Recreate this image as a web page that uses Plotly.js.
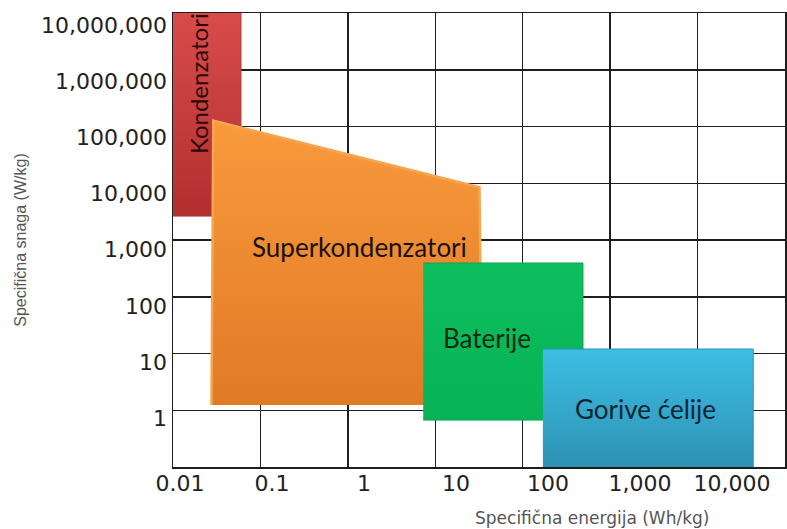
<!DOCTYPE html>
<html><head><meta charset="utf-8">
<script src="https://cdn.plot.ly/plotly-3.0.1.min.js"></script>
<style>html,body{margin:0;padding:0;background:#fff}</style>
</head><body><div id="chart" style="width:787px;height:529px"></div>
<script>
// Tick values and labels
const xTickVals = [0.01, 0.1, 1, 10, 100, 1000, 10000];
const xTickText = ['0.01', '0.1', '1', '10', '100', '1,000', '10,000'];
const yTickVals = [1, 10, 100, 1000, 10000, 100000, 1000000, 10000000];
const yTickText = ['1', '10', '100', '1,000', '10,000', '100,000', '1,000,000', '10,000,000'];

// Region names
const regionNames = ['Kondenzatori', 'Superkondenzatori', 'Baterije', 'Gorive ćelije'];

// Region outlines (specific energy Wh/kg, specific power W/kg)
const kondenzatoriX = [0.0084, 0.046, 0.046, 0.0084];
const kondenzatoriY = [3980, 3980, 1.7e7, 1.7e7];
const superkondX = [0.022, 0.023, 18, 19];
const superkondY = [1.7, 2.0e5, 1.3e4, 1.7];
const baterijeX = [4.4, 240, 240, 4.4];
const baterijeY = [0.92, 0.92, 580, 580];
const gorivoX = [88, 17000, 17000, 88];
const gorivoY = [0.134, 0.134, 17, 17];

function region(x, y, lineColor, lineWidth, bottom, top) {
  return {
    type: 'scatter', mode: 'lines', x: x, y: y, fill: 'toself',
    line: {color: lineColor, width: lineWidth},
    fillgradient: {type: 'vertical', colorscale: [[0, bottom], [1, top]]},
    hoverinfo: 'skip', showlegend: false
  };
}

const traces = [
  region(kondenzatoriX, kondenzatoriY, '#b83535', 1, '#b22f2f', '#d94b4b'),
  region(superkondX, superkondY, '#f7a550', 2.5, '#e07a26', '#f99a3c'),
  region(baterijeX, baterijeY, '#0aa552', 1, '#07b356', '#0dbe5e'),
  region(gorivoX, gorivoY, '#2b8fb0', 1, '#2e92b4', '#3dbee3'),
  {type: 'scatter', x: [], y: [], xaxis: 'x2', yaxis: 'y2', hoverinfo: 'skip', showlegend: false}
];

const tickFont = {family: 'DejaVu Sans, Verdana, sans-serif', size: 22, color: '#222'};
const labelFamily = 'Lato, Open Sans, sans-serif';
const gridColor = '#1e1e1e';

const layout = {
  width: 787, height: 529,
  margin: {l: 173, r: 2, t: 13, b: 62},
  paper_bgcolor: '#fff', plot_bgcolor: 'rgba(0,0,0,0)',
  hovermode: false, showlegend: false,
  xaxis: {
    type: 'log', range: [-2.076, 4.576],
    tickmode: 'array', tickvals: xTickVals, ticktext: xTickText,
    showgrid: false, zeroline: false, showline: false, ticks: '',
    tickfont: tickFont, ticklabelstandoff: 1
  },
  yaxis: {
    type: 'log', range: [-0.873, 7.22],
    tickmode: 'array', tickvals: yTickVals, ticktext: yTickText,
    showgrid: false, zeroline: false, showline: false, ticks: '',
    tickfont: tickFont, ticklabelstandoff: 5
  },
  xaxis2: {
    overlaying: 'x', anchor: 'y2', range: [0, 7], dtick: 1, tick0: 0,
    showgrid: true, gridcolor: gridColor, gridwidth: 1.5,
    showline: true, mirror: true, linecolor: gridColor, linewidth: 1.5,
    showticklabels: false, ticks: '', zeroline: false
  },
  yaxis2: {
    overlaying: 'y', anchor: 'x2', range: [0, 8], dtick: 1, tick0: 0,
    showgrid: true, gridcolor: gridColor, gridwidth: 1.5,
    showline: true, mirror: true, linecolor: gridColor, linewidth: 1.5,
    showticklabels: false, ticks: '', zeroline: false,
    title: {text: 'Specifična snaga (W/kg)', standoff: 141,
            font: {family: 'Liberation Sans, Arial, sans-serif', size: 16, color: '#555'}}
  },
  annotations: [
    {text: regionNames[0], x: -1.80, y: 5.96, xref: 'x', yref: 'y', showarrow: false,
     textangle: -90, font: {family: labelFamily, size: 24, color: '#2a0a0a'}},
    {text: regionNames[1], x: -0.054, y: 3.05, xref: 'x', yref: 'y', showarrow: false,
     font: {family: labelFamily, size: 26, color: '#1a1006'}},
    {text: regionNames[2], x: 1.337, y: 1.43, xref: 'x', yref: 'y', showarrow: false,
     font: {family: labelFamily, size: 26, color: '#0a2a14'}},
    {text: regionNames[3], x: 3.065, y: 0.16, xref: 'x', yref: 'y', showarrow: false,
     font: {family: labelFamily, size: 26, color: '#0c2633'}},
    {text: 'Specifična energija (Wh/kg)', xref: 'paper', yref: 'paper', x: 0.685, y: -0.112,
     xanchor: 'center', yanchor: 'middle', showarrow: false,
     font: {family: 'DejaVu Sans, sans-serif', size: 17, color: '#555'}}
  ]
};

Plotly.newPlot('chart', traces, layout, {displayModeBar: false, staticPlot: true});
</script></body></html>
